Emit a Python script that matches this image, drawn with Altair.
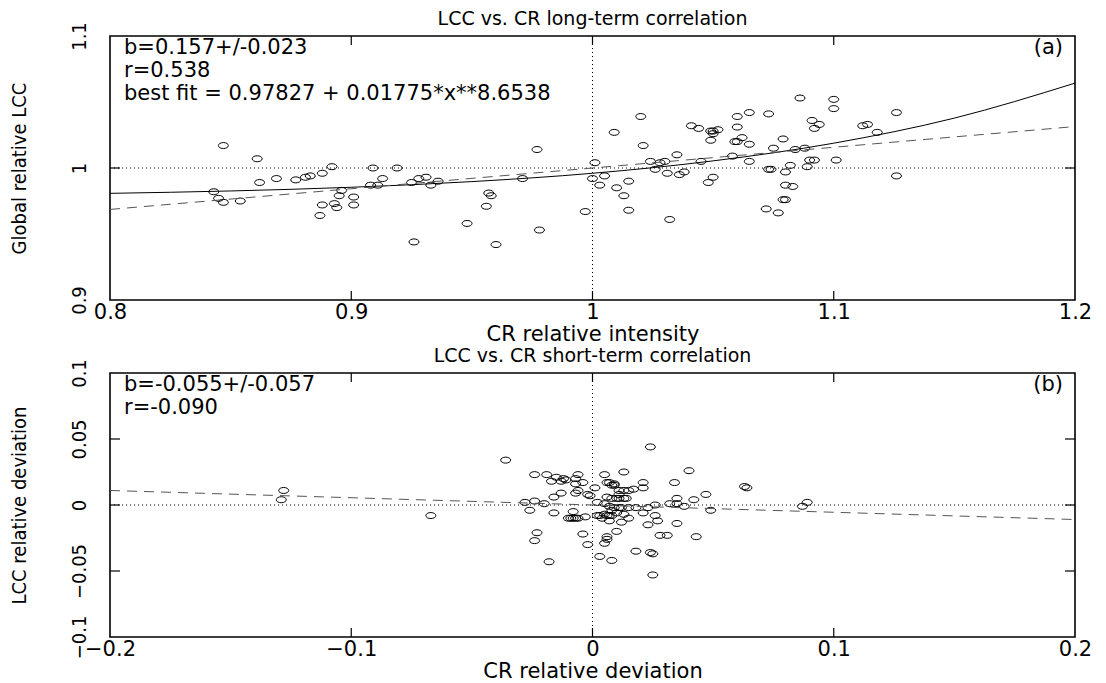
import altair as alt
import pandas as pd

# ---------------- Panel (a): long-term correlation ----------------
cr_long = [0.847, 0.861, 0.892, 0.888, 0.883, 0.881, 0.877, 0.869, 0.862, 0.843,
           0.845, 0.847, 0.854, 0.896, 0.895, 0.893, 0.894, 0.888, 0.887, 0.901,
           0.901, 0.909, 0.919, 0.913, 0.908, 0.911, 0.925, 0.928, 0.931, 0.936,
           0.933, 0.957, 0.958, 0.956, 0.948, 0.926, 0.960, 0.978, 0.971, 0.977,
           0.997, 1.001, 1.020, 1.009, 1.021, 1.000, 1.005, 1.003, 1.010, 1.015,
           1.013, 1.015, 1.032, 1.024, 1.026, 1.028, 1.030, 1.031, 1.035, 1.036,
           1.038, 1.045, 1.041, 1.044, 1.049, 1.050, 1.052, 1.050, 1.049, 1.048,
           1.050, 1.060, 1.060, 1.065, 1.062, 1.060, 1.059, 1.065, 1.058, 1.065,
           1.073, 1.086, 1.079, 1.075, 1.084, 1.088, 1.090, 1.092, 1.089, 1.082,
           1.073, 1.074, 1.080, 1.080, 1.083, 1.079, 1.080, 1.072, 1.077, 1.091,
           1.094, 1.092, 1.100, 1.100, 1.126, 1.112, 1.114, 1.118, 1.101, 1.126]
lcc_long = [1.017, 1.007, 1.001, 0.996, 0.994, 0.993, 0.991, 0.992, 0.989, 0.982,
            0.977, 0.974, 0.975, 0.983, 0.979, 0.973, 0.970, 0.972, 0.964, 0.978,
            0.972, 1.000, 1.000, 0.992, 0.987, 0.987, 0.989, 0.992, 0.993, 0.990,
            0.987, 0.981, 0.979, 0.971, 0.958, 0.944, 0.942, 0.953, 0.992, 1.014,
            0.967, 1.004, 1.039, 1.027, 1.017, 0.992, 0.994, 0.987, 0.985, 0.990,
            0.979, 0.968, 0.961, 1.005, 0.999, 1.004, 1.005, 0.996, 1.010, 0.995,
            0.997, 1.005, 1.032, 1.030, 1.028, 1.028, 1.029, 1.026, 1.021, 0.989,
            0.993, 1.039, 1.031, 1.042, 1.023, 1.020, 1.020, 1.018, 1.009, 1.005,
            1.041, 1.053, 1.022, 1.015, 1.014, 1.015, 1.006, 1.006, 1.001, 1.002,
            0.999, 0.999, 0.997, 0.987, 0.986, 0.976, 0.976, 0.969, 0.966, 1.036,
            1.033, 1.030, 1.052, 1.045, 1.042, 1.032, 1.033, 1.027, 1.006, 0.994]

# best-fit curve (0.97827 + 0.01775*x**8.6538) read at regular points
fit_cr = [0.80, 0.85, 0.90, 0.95, 1.00, 1.05, 1.10, 1.15, 1.20]
fit_lcc = [0.9808, 0.9826, 0.9854, 0.9897, 0.9960, 1.0054, 1.0188, 1.0378, 1.0643]
# linear regression line (dashed)
lin_a_cr = [0.8, 1.2]
lin_a_lcc = [0.9686, 1.0314]

# ---------------- Panel (b): short-term correlation ----------------
cr_short = [-0.036, -0.024, -0.019, -0.015, -0.012, -0.011, -0.013, -0.017, -0.006, -0.007,
            -0.004, -0.007, -0.006, -0.007, -0.013, -0.016, -0.002, 0.001, 0.005, 0.013,
            0.006, 0.007, 0.009, 0.008, 0.009, 0.011, 0.013, 0.015, 0.017, 0.021,
            0.021, 0.024, 0.034, 0.035, 0.006, 0.008, 0.010, 0.011, 0.013, 0.014,
            0.011, -0.001, 0.002, 0.005, 0.007, 0.009, 0.011, 0.012, 0.015, 0.018,
            0.023, 0.026, 0.032, 0.035, -0.024, -0.020, -0.028, -0.026, -0.016, -0.008,
            0.008, 0.010, 0.008, 0.007, 0.013, 0.015, 0.021, 0.026, 0.027, 0.035,
            0.023, -0.010, -0.009, -0.008, -0.007, -0.006, -0.003, 0.002, 0.003, 0.005,
            0.006, 0.004, 0.007, 0.012, -0.023, -0.024, -0.004, -0.002, 0.006, 0.006,
            0.005, 0.010, 0.028, 0.031, 0.018, 0.024, 0.025, 0.003, 0.008, -0.018,
            0.025, -0.067, -0.128, -0.129, 0.040, 0.042, 0.047, 0.043, 0.049, 0.038,
            0.063, 0.064, 0.087, 0.089]
lcc_short = [0.034, 0.023, 0.023, 0.021, 0.020, 0.019, 0.018, 0.018, 0.023, 0.020,
             0.017, 0.016, 0.011, 0.009, 0.009, 0.006, 0.008, 0.013, 0.023, 0.025,
             0.017, 0.017, 0.016, 0.015, 0.015, 0.011, 0.011, 0.011, 0.012, 0.017,
             0.013, 0.044, 0.017, 0.005, 0.006, 0.005, 0.005, 0.005, 0.005, 0.005,
             0.008, 0.007, 0.002, 0.001, -0.001, -0.002, -0.002, -0.002, -0.002, -0.002,
             -0.002, 0.000, 0.001, 0.001, 0.003, 0.001, 0.002, -0.004, -0.006, -0.005,
             -0.004, -0.006, -0.008, -0.008, -0.007, -0.010, -0.006, -0.008, -0.012, -0.014,
             -0.015, -0.010, -0.010, -0.010, -0.010, -0.010, -0.009, -0.008, -0.008, -0.007,
             -0.008, -0.010, -0.012, -0.013, -0.021, -0.027, -0.022, -0.030, -0.024, -0.026,
             -0.029, -0.020, -0.023, -0.023, -0.035, -0.036, -0.037, -0.039, -0.042, -0.043,
             -0.053, -0.008, 0.011, 0.004, 0.026, 0.004, 0.008, -0.024, -0.004, -0.001,
             0.014, 0.013, -0.001, 0.002]

lin_b_cr = [-0.2, 0.2]
lin_b_lcc = [0.011, -0.011]

W, H = 965, 264
TXT_FONT = "DejaVu Sans"
NARROW = "Liberation Sans Narrow, DejaVu Sans Condensed, Liberation Sans"
TITLE_FS = 19
NOTE_FS = 21
AX_FS = 21
ELLIPSE = ("M -1 0 C -1 -0.331 -0.552 -0.6 0 -0.6 C 0.552 -0.6 1 -0.331 1 0 "
           "C 1 0.331 0.552 0.6 0 0.6 C -0.552 0.6 -1 0.331 -1 0 Z")


def panel(title, xs, ys, fx, fy, lx, ly, xdom, ydom, xvals, yvals,
          xtitle, ytitle, xref, yref, notes, tag):
    xsc = alt.Scale(domain=xdom, nice=False, zero=False)
    ysc = alt.Scale(domain=ydom, nice=False, zero=False)
    xax = alt.Axis(values=xvals, format=".2~f")
    yax = alt.Axis(values=yvals, format=".2~f")

    def X():
        return alt.X("x:Q", scale=xsc, title=xtitle, axis=xax)

    def Y():
        return alt.Y("y:Q", scale=ysc, title=ytitle, axis=yax)

    pts = alt.Chart(pd.DataFrame({"x": xs, "y": ys})).mark_point(
        shape=ELLIPSE, size=100, filled=False, stroke="black", strokeWidth=1, opacity=1
    ).encode(x=X(), y=Y())
    layers = []
    layers.append(alt.Chart(pd.DataFrame({"y": [yref]})).mark_rule(
        color="black", strokeWidth=1, strokeDash=[1, 3]).encode(y=Y()))
    layers.append(alt.Chart(pd.DataFrame({"x": [xref]})).mark_rule(
        color="black", strokeWidth=1, strokeDash=[1, 3]).encode(x=X()))
    if fx is not None:
        layers.append(alt.Chart(pd.DataFrame({"x": fx, "y": fy})).mark_line(
            color="black", strokeWidth=1, interpolate="monotone").encode(x=X(), y=Y()))
    layers.append(alt.Chart(pd.DataFrame({"x": lx, "y": ly})).mark_line(
        color="#555555", strokeWidth=1, strokeDash=[10, 7]).encode(x=X(), y=Y()))
    # inward tick marks on all four sides
    inner_x = [v for v in xvals if v not in xdom]
    inner_y = [v for v in yvals if v not in ydom]
    tx = pd.DataFrame({"x": inner_x})
    ty = pd.DataFrame({"y": inner_y})
    for (a, b) in [(H, H - 9), (0, 9)]:
        layers.append(alt.Chart(tx).mark_rule(color="black", strokeWidth=1.2).encode(
            x=X(), y=alt.value(a), y2=alt.value(b)))
    for (a, b) in [(0, 10), (W, W - 10)]:
        layers.append(alt.Chart(ty).mark_rule(color="black", strokeWidth=1.2).encode(
            y=Y(), x=alt.value(a), x2=alt.value(b)))
    # annotations
    for i, s in enumerate(notes):
        layers.append(alt.Chart(pd.DataFrame({"t": [s]})).mark_text(
            x=14, y=12 + 23 * i, align="left", baseline="middle",
            font=TXT_FONT, fontSize=NOTE_FS, color="black"
        ).encode(text="t:N"))
    layers.append(alt.Chart(pd.DataFrame({"t": [tag]})).mark_text(
        x=W - 12, y=12, align="right", baseline="middle",
        font=TXT_FONT, fontSize=NOTE_FS, color="black"
    ).encode(text="t:N"))
    return alt.layer(pts, *layers).properties(
        width=W, height=H,
        title=alt.TitleParams(title, font=TXT_FONT, fontSize=TITLE_FS, fontWeight="normal",
                              color="black", offset=-7, anchor="middle"),
    )


top = panel("LCC vs. CR long-term correlation", cr_long, lcc_long, fit_cr, fit_lcc,
            lin_a_cr, lin_a_lcc, [0.8, 1.2], [0.9, 1.1], [0.8, 0.9, 1.0, 1.1, 1.2],
            [0.9, 1.0, 1.1], "CR relative intensity", "Global relative LCC", 1.0, 1.0,
            ["b=0.157+/-0.023", "r=0.538", "best fit = 0.97827 + 0.01775*x**8.6538"], "(a)")
bottom = panel("LCC vs. CR short-term correlation", cr_short, lcc_short, None, None,
               lin_b_cr, lin_b_lcc, [-0.2, 0.2], [-0.1, 0.1], [-0.2, -0.1, 0.0, 0.1, 0.2],
               [-0.1, -0.05, 0.0, 0.05, 0.1], "CR relative deviation", "LCC relative deviation",
               0.0, 0.0, ["b=-0.055+/-0.057", "r=-0.090"], "(b)")

chart = alt.vconcat(top, bottom, spacing=0).properties(
    padding={"left": 0, "top": 0, "right": 0, "bottom": 0}
).configure_view(
    stroke="black", strokeWidth=1.6
).configure_axisX(
    grid=False, domain=False, ticks=False, labelFont=TXT_FONT, labelFontSize=AX_FS,
    labelColor="black", labelPadding=1, labelFlush=False, labelOverlap=False,
    titleFont=TXT_FONT, titleFontSize=AX_FS, titleFontWeight="normal", titleColor="black",
    titlePadding=1
).configure_axisY(
    grid=False, domain=False, ticks=False, labelFont=NARROW, labelFontSize=20,
    labelColor="black", labelAngle=-90, labelAlign="center", labelBaseline="bottom",
    labelPadding=21, labelFlush=False, labelOverlap=False,
    titleFont=NARROW, titleFontSize=20, titleFontWeight="normal", titleColor="black",
    titlePadding=40
)

chart.save("out.html", embed_options={"renderer": "svg", "actions": False})
